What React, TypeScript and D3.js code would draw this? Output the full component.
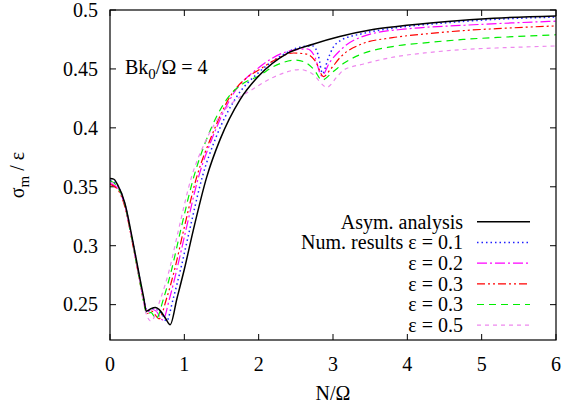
import React, { useRef, useEffect } from "react";
import * as d3 from "d3";

// axis ticks
const xTicks = [0, 1, 2, 3, 4, 5, 6];
const yTicks = [0.25, 0.3, 0.35, 0.4, 0.45, 0.5];
const yTickLabels = ["0.25", "0.3", "0.35", "0.4", "0.45", "0.5"];

// asymptotic analysis
const asymN = [0, 0.05, 0.1, 0.2, 0.3, 0.4, 0.45, 0.49, 0.55, 0.61, 0.68, 0.75, 0.81, 0.9, 1.0, 1.12, 1.3, 1.48, 1.75, 2.0, 2.38, 2.73, 3.09, 3.5, 3.86, 4.5, 5.16, 6];
const asymV = [0.357, 0.3565, 0.352, 0.336, 0.306, 0.273, 0.257, 0.2445, 0.2465, 0.2475, 0.2445, 0.238, 0.233, 0.255, 0.28, 0.313, 0.358, 0.39, 0.424, 0.444, 0.463, 0.471, 0.4775, 0.483, 0.486, 0.49, 0.493, 0.495];

// numerical results
const eps01N = [0, 0.1, 0.2, 0.3, 0.4, 0.45, 0.5, 0.57, 0.64, 0.7, 0.76, 0.85, 0.95, 1.07, 1.24, 1.42, 1.7, 2.0, 2.3, 2.6, 2.73, 2.8, 2.86, 2.93, 3.0, 3.1, 3.4, 3.86, 4.5, 5.16, 6];
const eps01V = [0.3555, 0.351, 0.335, 0.305, 0.272, 0.256, 0.2445, 0.2465, 0.2455, 0.242, 0.236, 0.255, 0.28, 0.313, 0.358, 0.391, 0.426, 0.447, 0.461, 0.469, 0.4695, 0.462, 0.446, 0.458, 0.468, 0.474, 0.48, 0.485, 0.489, 0.492, 0.494];

const eps02N = [0, 0.1, 0.2, 0.3, 0.4, 0.45, 0.5, 0.56, 0.62, 0.71, 0.8, 0.9, 1.02, 1.19, 1.38, 1.65, 2.0, 2.4, 2.65, 2.75, 2.85, 2.95, 3.1, 3.5, 4.0, 4.75, 5.4, 6];
const eps02V = [0.353, 0.349, 0.334, 0.304, 0.271, 0.255, 0.2435, 0.246, 0.2445, 0.237, 0.255, 0.28, 0.313, 0.358, 0.392, 0.428, 0.451, 0.465, 0.467, 0.461, 0.444, 0.455, 0.466, 0.4795, 0.484, 0.487, 0.489, 0.4905];

const eps03N = [0, 0.1, 0.2, 0.3, 0.4, 0.45, 0.5, 0.56, 0.66, 0.76, 0.87, 0.99, 1.17, 1.36, 1.63, 1.85, 2.0, 2.2, 2.47, 2.65, 2.77, 2.87, 2.97, 3.1, 3.4, 3.8, 4.3, 4.75, 5.3, 6];
const eps03V = [0.352, 0.348, 0.333, 0.303, 0.27, 0.254, 0.2425, 0.2445, 0.238, 0.255, 0.28, 0.313, 0.359, 0.392, 0.428, 0.443, 0.449, 0.457, 0.4635, 0.4625, 0.456, 0.4435, 0.45, 0.46, 0.4715, 0.4765, 0.48, 0.4825, 0.4845, 0.4865];

const eps03bN = [0, 0.1, 0.2, 0.3, 0.4, 0.45, 0.5, 0.55, 0.62, 0.72, 0.83, 0.95, 1.13, 1.31, 1.58, 1.8, 2.0, 2.2, 2.5, 2.63, 2.75, 2.85, 3.0, 3.15, 3.36, 3.8, 4.3, 4.75, 5.3, 6];
const eps03bV = [0.355, 0.35, 0.335, 0.304, 0.27, 0.253, 0.2415, 0.2435, 0.238, 0.255, 0.28, 0.313, 0.359, 0.392, 0.425, 0.438, 0.444, 0.452, 0.4575, 0.4555, 0.449, 0.4405, 0.4475, 0.455, 0.462, 0.469, 0.4725, 0.475, 0.477, 0.479];

const eps05N = [0, 0.1, 0.2, 0.3, 0.4, 0.45, 0.5, 0.55, 0.68, 0.8, 0.92, 1.1, 1.28, 1.5, 1.7, 1.9, 2.2, 2.56, 2.72, 2.92, 3.05, 3.14, 3.4, 3.81, 4.3, 4.75, 5.3, 6];
const eps05V = [0.354, 0.35, 0.335, 0.304, 0.27, 0.252, 0.24, 0.236, 0.255, 0.28, 0.313, 0.359, 0.388, 0.412, 0.424, 0.432, 0.443, 0.4495, 0.446, 0.4345, 0.443, 0.449, 0.454, 0.46, 0.464, 0.4665, 0.468, 0.4695];

const legendLabels = ["Asym. analysis", "Num. results \u03b5 = 0.1", "\u03b5 = 0.2", "\u03b5 = 0.3", "\u03b5 = 0.3", "\u03b5 = 0.5"];

const series = [
    { n: asymN, v: asymV, color: "#000000", dash: null, width: 1.5 },
    { n: eps01N, v: eps01V, color: "#2020ff", dash: "1.5,3", width: 1.5 },
    { n: eps02N, v: eps02V, color: "#ff00ff", dash: "10,3,2,3", width: 1.2 },
    { n: eps03N, v: eps03V, color: "#ff0000", dash: "8,3,2,3,2,3", width: 1.2 },
    { n: eps03bN, v: eps03bV, color: "#00ee00", dash: "7,5", width: 1.2 },
    { n: eps05N, v: eps05V, color: "#ee88ee", dash: "4,4", width: 1.2 },
];

const FONT = "Liberation Serif, Times New Roman, Times, serif";

function App() {
    const ref = useRef(null);

    useEffect(() => {
        draw();
    }, []);

    const draw = () => {
        const svg = d3.select(ref.current);
        svg.selectAll("*").remove();

        const margin = { top: 10, right: 7, bottom: 67, left: 110 };
        const width = 563 - margin.left - margin.right;
        const height = 407 - margin.top - margin.bottom;

        const x = d3.scaleLinear().domain([0, 6]).range([0, width]);
        const y = d3.scaleLinear().domain([0.22, 0.5]).range([height, 0]);

        const g = svg.append("g").attr("transform", "translate(" + margin.left + "," + margin.top + ")");

        const tick = 6;
        // x ticks (bottom and top mirror)
        xTicks.forEach((t) => {
            g.append("line").attr("x1", x(t)).attr("x2", x(t)).attr("y1", height).attr("y2", height - tick).attr("stroke", "black");
            g.append("line").attr("x1", x(t)).attr("x2", x(t)).attr("y1", 0).attr("y2", tick).attr("stroke", "black");
            g.append("text")
                .attr("x", x(t))
                .attr("y", height + 31)
                .attr("text-anchor", "middle")
                .text(String(t));
        });

        yTicks.forEach((t, i) => {
            g.append("line").attr("x1", 0).attr("x2", tick).attr("y1", y(t)).attr("y2", y(t)).attr("stroke", "black");
            g.append("line").attr("x1", width).attr("x2", width - tick).attr("y1", y(t)).attr("y2", y(t)).attr("stroke", "black");
            g.append("text")
                .attr("x", -12)
                .attr("y", y(t))
                .attr("dy", "0.34em")
                .attr("text-anchor", "end")
                .text(yTickLabels[i]);
        });

        const clip = svg.append("defs").append("clipPath").attr("id", "plotclip");
        clip.append("rect").attr("width", width).attr("height", height);

        const line = d3
            .line()
            .x((d) => x(d[0]))
            .y((d) => y(d[1]))
            .curve(d3.curveMonotoneX);

        const plot = g.append("g").attr("clip-path", "url(#plotclip)");
        // numerical results first, asym on top
        series
            .slice(1)
            .concat([series[0]])
            .forEach((s) => {
                const pts = s.n.map((n, i) => [n, s.v[i]]);
                const p = plot
                    .append("path")
                    .attr("d", line(pts))
                    .attr("fill", "none")
                    .attr("stroke", s.color)
                    .attr("stroke-width", s.width);
                if (s.dash) p.attr("stroke-dasharray", s.dash);
            });

        // frame
        g.append("rect")
            .attr("width", width)
            .attr("height", height)
            .attr("fill", "none")
            .attr("stroke", "black")
            .attr("stroke-width", 1.2);

        // legend
        const legX = 463 - margin.left;
        const legY = 221.7 - margin.top;
        series.forEach((s, i) => {
            const ly = legY + i * 20.7;
            g.append("text")
                .attr("x", legX)
                .attr("y", ly)
                .attr("dy", "0.34em")
                .attr("text-anchor", "end")
                .text(legendLabels[i]);
            const l = g
                .append("line")
                .attr("x1", legX + 14)
                .attr("x2", legX + 67)
                .attr("y1", ly)
                .attr("y2", ly)
                .attr("stroke", s.color)
                .attr("stroke-width", s.width);
            if (s.dash) l.attr("stroke-dasharray", s.dash);
        });

        // annotation
        const ann = g
            .append("text")
            .attr("x", 125 - margin.left)
            .attr("y", 74 - margin.top);
        ann.append("tspan").text("Bk");
        ann.append("tspan").style("font-size", "15px").attr("dy", 5).text("0");
        ann.append("tspan").attr("dy", -5).text("/\u03a9 = 4");

        // axis titles
        svg.append("text")
            .attr("x", margin.left + width / 2)
            .attr("y", 400)
            .attr("text-anchor", "middle")
            .text("N/\u03a9");

        const yl = svg
            .append("text")
            .attr("transform", "translate(24," + (margin.top + height / 2) + ") rotate(-90)")
            .attr("text-anchor", "middle");
        yl.append("tspan").text("\u03c3");
        yl.append("tspan").style("font-size", "15px").attr("dy", 5).text("m");
        yl.append("tspan").attr("dy", -5).text(" / \u03b5");

        svg.selectAll("text").style("font-family", FONT);
    };

    return (
        <div className="chart">
            <svg
                ref={ref}
                width={563}
                height={407}
                style={{ position: "absolute", left: 0, top: 0, fontSize: "20px" }}
            ></svg>
        </div>
    );
}

export default App;
